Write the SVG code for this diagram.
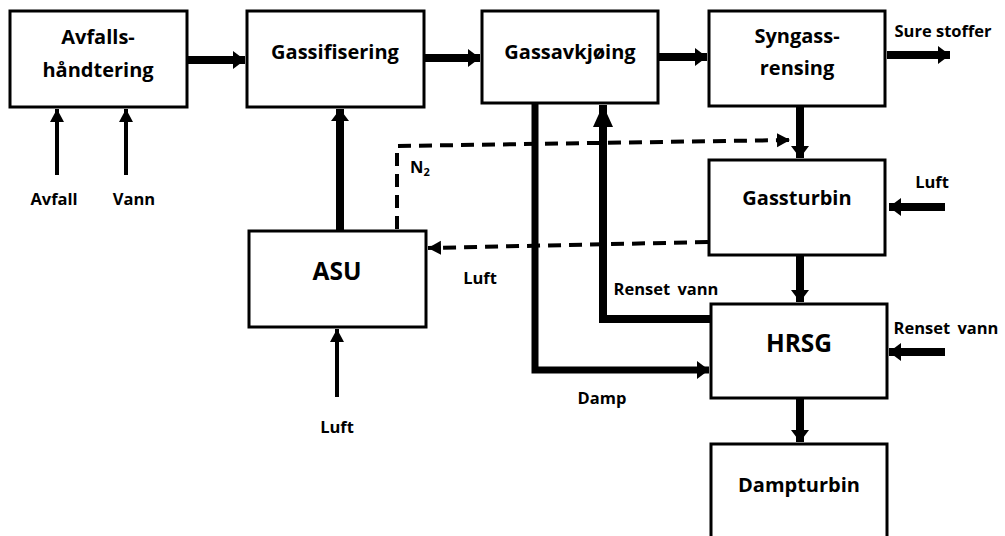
<svg xmlns="http://www.w3.org/2000/svg" width="1005" height="536" viewBox="0 0 1005 536">
<style>
.box{fill:#fff;stroke:#000;stroke-width:3}
.t{font-family:"Open Sans","Noto Sans",sans-serif;font-weight:bold;font-size:20px;text-anchor:middle;fill:#000}
.tb{font-family:"Open Sans","Noto Sans",sans-serif;font-weight:bold;font-size:24.5px;text-anchor:middle;fill:#000}
.s{font-family:"Open Sans","Noto Sans",sans-serif;font-weight:bold;font-size:16.5px;text-anchor:middle;fill:#000}
.ws{word-spacing:3px}
.thick{stroke:#000;stroke-width:8;fill:none}
.med{stroke:#000;stroke-width:7;fill:none}
.thin{stroke:#000;stroke-width:4;fill:none}
.dash{stroke:#000;stroke-width:4;fill:none;stroke-dasharray:13 8}
</style>
<defs>
<marker id="ah" markerUnits="userSpaceOnUse" markerWidth="14" markerHeight="20" refX="12" refY="10" orient="auto"><path d="M0,1 L12,10 L0,19 Z" fill="#000"/></marker>
<marker id="ahl" markerUnits="userSpaceOnUse" markerWidth="24" markerHeight="22" refX="22" refY="11" orient="auto"><path d="M0,1 L22,11 L0,21 Z" fill="#000"/></marker>
<marker id="ahs" markerUnits="userSpaceOnUse" markerWidth="15" markerHeight="16" refX="13" refY="8" orient="auto"><path d="M0,1 L13,8 L0,15 Z" fill="#000"/></marker>
</defs>
<g id="connectors">
<line class="thick" x1="188" y1="60" x2="245" y2="60" marker-end="url(#ah)"/>
<line class="thick" x1="425" y1="58" x2="480" y2="58" marker-end="url(#ah)"/>
<line class="thick" x1="659" y1="57" x2="707" y2="57" marker-end="url(#ah)"/>
<line class="thick" x1="887" y1="55" x2="950" y2="55" marker-end="url(#ah)"/>
<line class="thick" x1="800" y1="107" x2="800" y2="158" marker-end="url(#ah)"/>
<line class="thick" x1="800" y1="256" x2="800" y2="302" marker-end="url(#ah)"/>
<line class="thick" x1="800" y1="399" x2="800" y2="442" marker-end="url(#ah)"/>
<line class="thick" x1="945" y1="207" x2="889" y2="207" marker-end="url(#ah)"/>
<line class="thick" x1="945" y1="352" x2="889" y2="352" marker-end="url(#ah)"/>
<line class="thick" x1="340" y1="230" x2="340" y2="109" marker-end="url(#ah)"/>
<polyline class="med" points="535,104 535,370 709,370" marker-end="url(#ah)"/>
<polyline class="thick" points="710,319 603,319 603,105" marker-end="url(#ahl)"/>
<line class="thin" x1="57" y1="175" x2="57" y2="109" marker-end="url(#ahs)"/>
<line class="thin" x1="126" y1="175" x2="126" y2="109" marker-end="url(#ahs)"/>
<line class="thin" x1="337" y1="397" x2="337" y2="329" marker-end="url(#ahs)"/>
<polyline class="dash" points="397,229 397,146 790,140" marker-end="url(#ahs)"/>
<line class="dash" x1="708" y1="242" x2="428" y2="248" marker-end="url(#ahs)"/>
</g>
<g id="avfallshandtering"><rect class="box" x="10" y="11" width="177" height="96"/><text class="t" x="98" y="44">Avfalls-</text><text class="t" x="98" y="77">håndtering</text></g>
<g id="gassifisering"><rect class="box" x="247" y="11" width="177" height="96"/><text class="t" x="335" y="59">Gassifisering</text></g>
<g id="gassavkjoing"><rect class="box" x="482" y="11" width="176" height="92"/><text class="t" x="570" y="59">Gassavkjøing</text></g>
<g id="syngassrensing"><rect class="box" x="709" y="11" width="176" height="95"/><text class="t" x="797" y="43">Syngass-</text><text class="t" x="797" y="75">rensing</text></g>
<g id="gassturbin"><rect class="box" x="709" y="160" width="176" height="95"/><text class="t" x="797" y="205">Gassturbin</text></g>
<g id="asu"><rect class="box" x="249" y="231" width="177" height="96"/><text class="tb" x="337" y="280">ASU</text></g>
<g id="hrsg"><rect class="box" x="711" y="304" width="176" height="94"/><text class="tb" x="799" y="352">HRSG</text></g>
<g id="dampturbin"><rect class="box" x="711" y="444" width="176" height="100"/><text class="t" x="799" y="492">Dampturbin</text></g>
<g id="labels">
<text class="s" x="54" y="205">Avfall</text>
<text class="s" x="134" y="205">Vann</text>
<text class="s" x="943" y="37">Sure stoffer</text>
<text class="s" x="932" y="188">Luft</text>
<text class="s" x="480" y="284">Luft</text>
<text class="s ws" x="666" y="295">Renset vann</text>
<text class="s ws" x="946" y="334">Renset vann</text>
<text class="s" x="602" y="404">Damp</text>
<text class="s" x="337" y="433">Luft</text>
<text x="410" y="173" style="font-family:'Open Sans',sans-serif;font-weight:bold;font-size:16.5px"><tspan>N</tspan><tspan dy="3" font-size="11">2</tspan></text>
</g>
</svg>
